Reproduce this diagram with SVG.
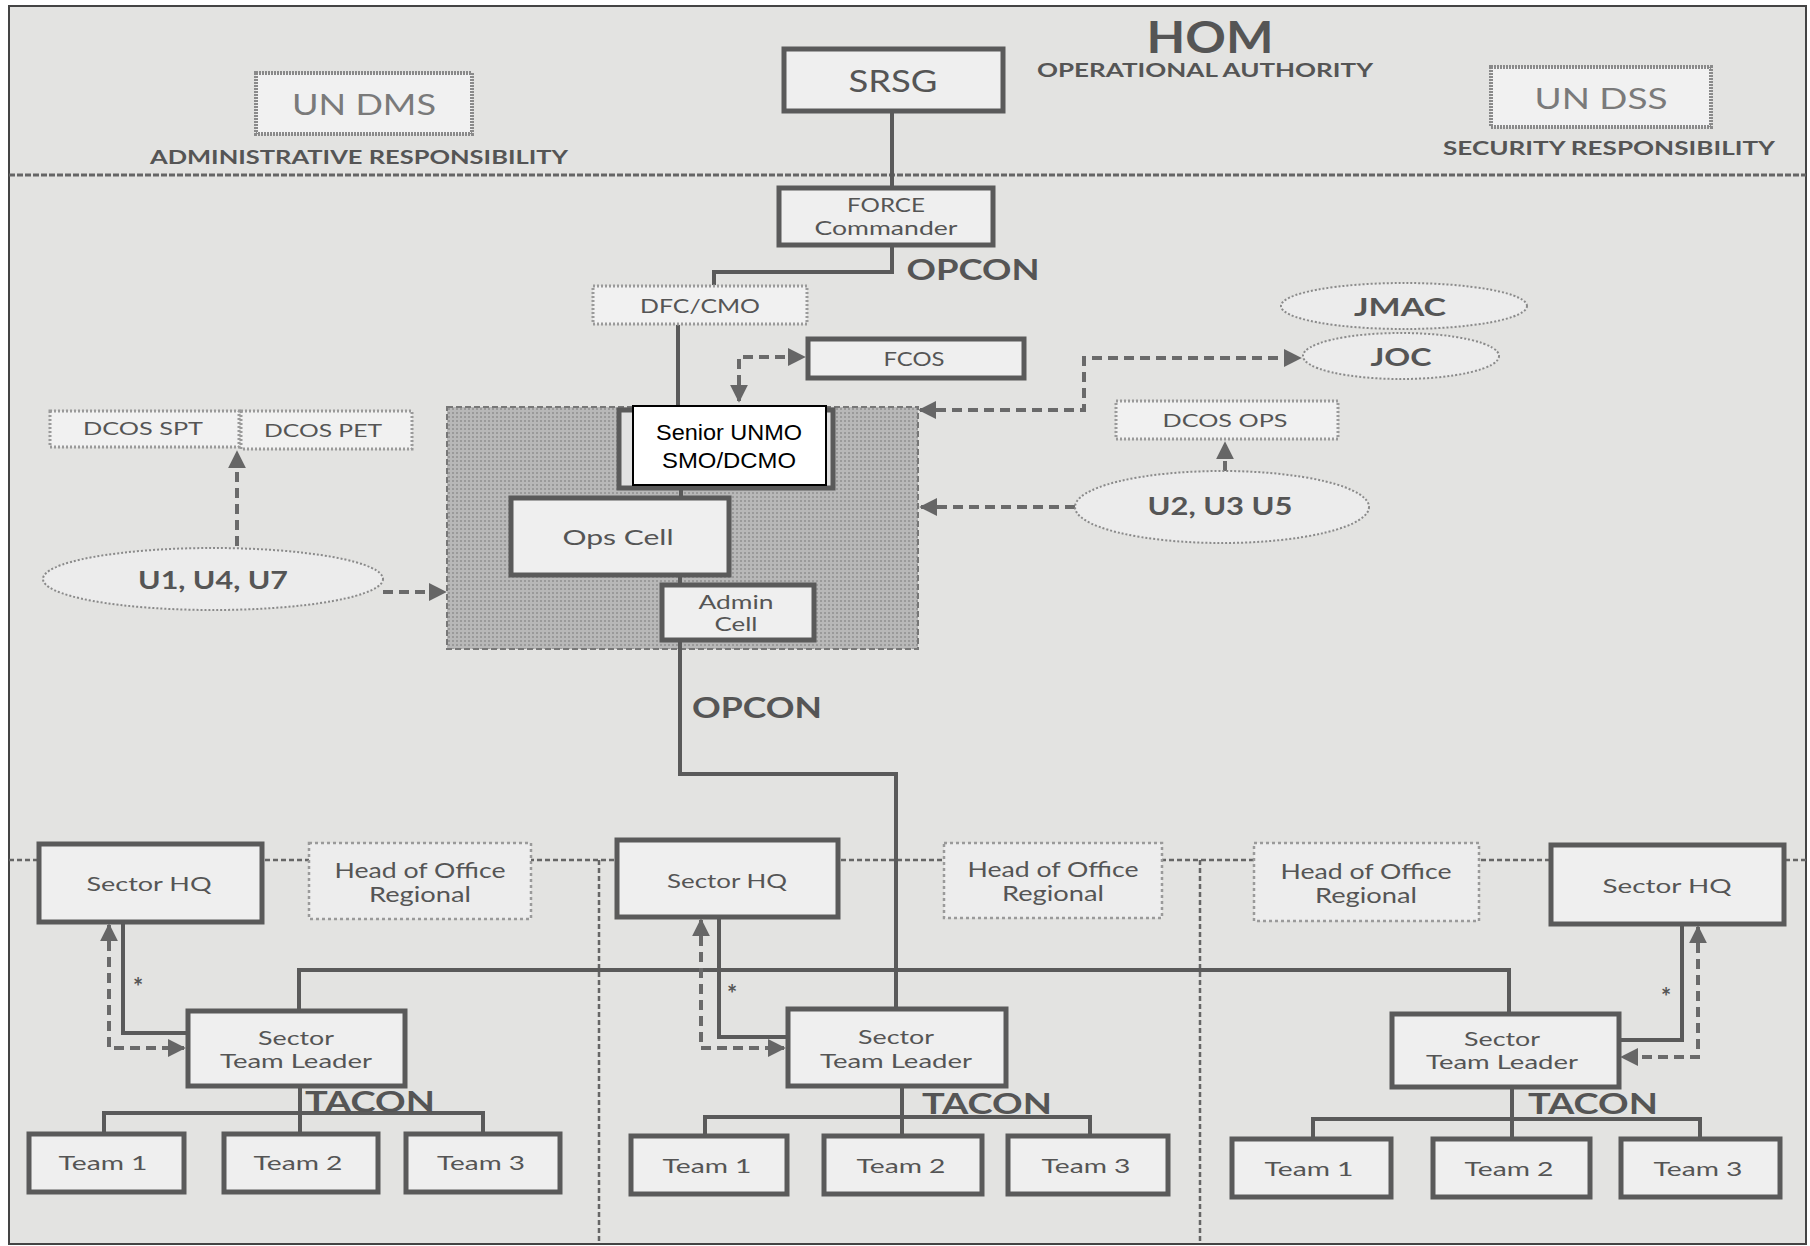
<svg xmlns="http://www.w3.org/2000/svg" width="1810" height="1246" viewBox="0 0 1810 1246">
<defs>
<marker id="arr" viewBox="0 0 10 10" refX="9" refY="5" markerWidth="18" markerHeight="18" markerUnits="userSpaceOnUse" orient="auto-start-reverse">
<path d="M0,0 L10,5 L0,10 z" fill="#666"/>
</marker>
<pattern id="dots" width="4" height="4" patternUnits="userSpaceOnUse">
<rect width="4" height="4" fill="#b8b8b8"/>
<rect width="2" height="2" fill="#9a9a9a"/>
</pattern>
</defs>
<style>
text{font-family:Lato,"Liberation Sans",sans-serif;fill:#555;text-anchor:middle;dominant-baseline:central}
.b{font-weight:bold}
.lt{fill:#7a7a7a}
.box{fill:#efefef;stroke:#5a5a5a;stroke-width:5}
.hbox{fill:#f1f1f1;stroke:#8a8a8a;stroke-width:4;stroke-dasharray:2 1}
.dbox{fill:#f1f1f1;stroke:#9a9a9a;stroke-width:3;stroke-dasharray:2 2}
.hoo{fill:#ededed;stroke:#9a9a9a;stroke-width:2.5;stroke-dasharray:3 3}
.ell{fill:#ececec;stroke:#8a8a8a;stroke-width:2;stroke-dasharray:2 2}
.sol{fill:none;stroke:#5a5a5a;stroke-width:4}
.das{fill:none;stroke:#6a6a6a;stroke-width:4;stroke-dasharray:10 6}
.sep{fill:none;stroke:#666;stroke-width:2.5;stroke-dasharray:5 3}
</style>
<rect x="0" y="0" width="1810" height="1246" fill="#ffffff"/>
<rect x="9" y="6" width="1797" height="1238" fill="#e3e3e1" stroke="#444" stroke-width="2"/>
<line x1="9" y1="175" x2="1806" y2="175" stroke="#666" stroke-width="3" stroke-dasharray="6 2"/>
<line class="sep" x1="9" y1="860" x2="1806" y2="860"/>
<line class="sep" x1="599" y1="860" x2="599" y2="1244"/>
<line class="sep" x1="1200" y1="860" x2="1200" y2="1244"/>
<g id="smo-area"><rect x="447" y="407" width="471" height="242" fill="url(#dots)" stroke="#777" stroke-width="2" stroke-dasharray="6 3"/></g>

<g id="connectors">
<path class="sol" d="M892,112 V186"/>
<path class="sol" d="M892,246 V272 H714 V285"/>
<path class="sol" d="M678,325 V406"/>
<path class="das" d="M739,401 V357 H804" marker-start="url(#arr)" marker-end="url(#arr)"/>
<path class="sol" d="M681,490 V497"/>
<path class="sol" d="M680,577 V583"/>
<path class="sol" d="M680,641 V774 H896 V1008"/>
<path class="das" d="M920,410 H1084 V358 H1300" marker-start="url(#arr)" marker-end="url(#arr)"/>
<path class="das" d="M1075,507 H921" marker-end="url(#arr)"/>
<path class="das" d="M1225,471 V443" marker-end="url(#arr)"/>
<path class="das" d="M383,592 H445" marker-end="url(#arr)"/>
<path class="das" d="M237,546 V452" marker-end="url(#arr)"/>
<path class="sol" d="M299,1010 V970 H1509 V1013"/>
<path class="sol" d="M123,923 V1033 H186"/>
<path class="das" d="M109,925 V1048 H184" marker-start="url(#arr)" marker-end="url(#arr)"/>
<path class="sol" d="M719,918 V1037 H786"/>
<path class="das" d="M701,920 V1048 H784" marker-start="url(#arr)" marker-end="url(#arr)"/>
<path class="sol" d="M1682,925 V1040 H1620"/>
<path class="das" d="M1698,927 V1057 H1622" marker-start="url(#arr)" marker-end="url(#arr)"/>
<path class="sol" d="M300,1087 V1133 M104,1133 V1113 H483 V1133"/>
<path class="sol" d="M902,1087 V1135 M705,1135 V1117 H1090 V1135"/>
<path class="sol" d="M1512,1088 V1138 M1313,1138 V1119 H1700 V1138"/>
</g>

<g id="labels">
<text class="b" x="1210" y="36" font-size="44" textLength="127" lengthAdjust="spacingAndGlyphs">HOM</text>
<text class="b" x="1205" y="69" font-size="19" textLength="336" lengthAdjust="spacingAndGlyphs">OPERATIONAL AUTHORITY</text>
<text class="b" x="359" y="156" font-size="19" textLength="418" lengthAdjust="spacingAndGlyphs">ADMINISTRATIVE RESPONSIBILITY</text>
<text class="b" x="1609" y="147" font-size="19" textLength="332" lengthAdjust="spacingAndGlyphs">SECURITY RESPONSIBILITY</text>
<text class="b" x="973" y="268" font-size="29" textLength="133" lengthAdjust="spacingAndGlyphs">OPCON</text>
<text class="b" x="757" y="706" font-size="29" textLength="130" lengthAdjust="spacingAndGlyphs">OPCON</text>
<text class="b" x="370" y="1100" font-size="29" textLength="130" lengthAdjust="spacingAndGlyphs">TACON</text>
<text class="b" x="987" y="1102" font-size="29" textLength="130" lengthAdjust="spacingAndGlyphs">TACON</text>
<text class="b" x="1593" y="1102" font-size="29" textLength="130" lengthAdjust="spacingAndGlyphs">TACON</text>
<text class="b" x="138" y="986" font-size="24">*</text>
<text class="b" x="732" y="993" font-size="24">*</text>
<text class="b" x="1666" y="996" font-size="24">*</text>
</g>

<g id="un-dms"><rect class="hbox" x="256" y="73" width="216" height="61"/><text class="lt" x="364" y="103" font-size="29" textLength="144" lengthAdjust="spacingAndGlyphs">UN DMS</text></g>
<g id="srsg"><rect class="box" x="784" y="49" width="219" height="62"/><text x="893" y="80" font-size="30" textLength="89" lengthAdjust="spacingAndGlyphs">SRSG</text></g>
<g id="un-dss"><rect class="hbox" x="1491" y="67" width="220" height="60"/><text class="lt" x="1601" y="97" font-size="29" textLength="133" lengthAdjust="spacingAndGlyphs">UN DSS</text></g>
<g id="force-commander"><rect class="box" x="779" y="188" width="214" height="57"/><text x="886" y="204" font-size="20" textLength="78" lengthAdjust="spacingAndGlyphs">FORCE</text><text x="886" y="227" font-size="20" textLength="143" lengthAdjust="spacingAndGlyphs">Commander</text></g>
<g id="dfc-cmo"><rect class="dbox" x="593" y="286" width="214" height="38"/><text x="700" y="305" font-size="19" textLength="120" lengthAdjust="spacingAndGlyphs">DFC/CMO</text></g>
<g id="fcos"><rect class="box" x="808" y="339" width="216" height="39"/><text x="914" y="358" font-size="19" textLength="61" lengthAdjust="spacingAndGlyphs">FCOS</text></g>
<g id="jmac"><ellipse class="ell" cx="1404" cy="306" rx="123" ry="23"/><text class="b" x="1400" y="306" font-size="25" textLength="92" lengthAdjust="spacingAndGlyphs">JMAC</text></g>
<g id="joc"><ellipse class="ell" cx="1401" cy="356" rx="98" ry="23"/><text class="b" x="1401" y="356" font-size="25" textLength="61" lengthAdjust="spacingAndGlyphs">JOC</text></g>
<g id="dcos-spt"><rect class="dbox" x="50" y="411" width="189" height="36"/><text x="143" y="428" font-size="18" textLength="120" lengthAdjust="spacingAndGlyphs">DCOS SPT</text></g>
<g id="dcos-pet"><rect class="dbox" x="241" y="411" width="171" height="38"/><text x="323" y="430" font-size="18" textLength="118" lengthAdjust="spacingAndGlyphs">DCOS PET</text></g>
<g id="dcos-ops"><rect class="dbox" x="1116" y="401" width="222" height="38"/><text x="1225" y="420" font-size="18" textLength="125" lengthAdjust="spacingAndGlyphs">DCOS OPS</text></g>
<g id="senior-unmo">
<rect x="619" y="410" width="214" height="78" fill="#e2e2e2" stroke="#5a5a5a" stroke-width="5"/>
<rect x="633" y="406" width="193" height="79" fill="#fff" stroke="#000" stroke-width="2"/>
<text x="729" y="432" font-size="22" style="fill:#000;font-family:'Liberation Sans',Arial,sans-serif" textLength="146" lengthAdjust="spacingAndGlyphs">Senior UNMO</text>
<text x="729" y="460" font-size="22" style="fill:#000;font-family:'Liberation Sans',Arial,sans-serif" textLength="134" lengthAdjust="spacingAndGlyphs">SMO/DCMO</text>
</g>
<g id="ops-cell"><rect class="box" x="511" y="498" width="218" height="77"/><text x="618" y="536" font-size="22" textLength="111" lengthAdjust="spacingAndGlyphs">Ops Cell</text></g>
<g id="admin-cell"><rect class="box" x="662" y="585" width="152" height="55"/><text x="736" y="601" font-size="19" textLength="75" lengthAdjust="spacingAndGlyphs">Admin</text><text x="736" y="623" font-size="19" textLength="43" lengthAdjust="spacingAndGlyphs">Cell</text></g>
<g id="u1-u4-u7"><ellipse class="ell" cx="213" cy="579" rx="170" ry="31"/><text class="b" x="213" y="579" font-size="24" textLength="150" lengthAdjust="spacingAndGlyphs">U1, U4, U7</text></g>
<g id="u2-u3-u5"><ellipse class="ell" cx="1222" cy="507" rx="147" ry="36"/><text class="b" x="1220" y="505" font-size="24" textLength="145" lengthAdjust="spacingAndGlyphs">U2, U3  U5</text></g>

<g id="sector-hq-1"><rect class="box" x="39" y="844" width="223" height="78"/><text x="149" y="883" font-size="19" textLength="125" lengthAdjust="spacingAndGlyphs">Sector HQ</text></g>
<g id="hoo-1"><rect class="hoo" x="309" y="843" width="222" height="76"/><text x="420" y="869" font-size="21" textLength="171" lengthAdjust="spacingAndGlyphs">Head of Office</text><text x="420" y="893" font-size="21" textLength="102" lengthAdjust="spacingAndGlyphs">Regional</text></g>
<g id="sector-hq-2"><rect class="box" x="617" y="840" width="221" height="77"/><text x="727" y="880" font-size="19" textLength="120" lengthAdjust="spacingAndGlyphs">Sector HQ</text></g>
<g id="hoo-2"><rect class="hoo" x="944" y="843" width="218" height="75"/><text x="1053" y="868" font-size="21" textLength="171" lengthAdjust="spacingAndGlyphs">Head of Office</text><text x="1053" y="892" font-size="21" textLength="102" lengthAdjust="spacingAndGlyphs">Regional</text></g>
<g id="hoo-3"><rect class="hoo" x="1254" y="843" width="225" height="78"/><text x="1366" y="870" font-size="21" textLength="171" lengthAdjust="spacingAndGlyphs">Head of Office</text><text x="1366" y="894" font-size="21" textLength="102" lengthAdjust="spacingAndGlyphs">Regional</text></g>
<g id="sector-hq-3"><rect class="box" x="1551" y="845" width="233" height="79"/><text x="1667" y="885" font-size="19" textLength="129" lengthAdjust="spacingAndGlyphs">Sector HQ</text></g>

<g id="stl-1"><rect class="box" x="188" y="1011" width="217" height="75"/><text x="296" y="1037" font-size="20" textLength="76" lengthAdjust="spacingAndGlyphs">Sector</text><text x="296" y="1060" font-size="20" textLength="152" lengthAdjust="spacingAndGlyphs">Team Leader</text></g>
<g id="stl-2"><rect class="box" x="788" y="1009" width="218" height="77"/><text x="896" y="1036" font-size="20" textLength="76" lengthAdjust="spacingAndGlyphs">Sector</text><text x="896" y="1060" font-size="20" textLength="152" lengthAdjust="spacingAndGlyphs">Team Leader</text></g>
<g id="stl-3"><rect class="box" x="1392" y="1014" width="227" height="73"/><text x="1502" y="1038" font-size="20" textLength="76" lengthAdjust="spacingAndGlyphs">Sector</text><text x="1502" y="1061" font-size="20" textLength="152" lengthAdjust="spacingAndGlyphs">Team Leader</text></g>

<g id="team-1-1"><rect class="box" x="29" y="1134" width="155" height="58"/><text x="103" y="1162" font-size="20" textLength="89" lengthAdjust="spacingAndGlyphs">Team 1</text></g>
<g id="team-1-2"><rect class="box" x="224" y="1134" width="154" height="58"/><text x="298" y="1162" font-size="20" textLength="89" lengthAdjust="spacingAndGlyphs">Team 2</text></g>
<g id="team-1-3"><rect class="box" x="406" y="1134" width="154" height="58"/><text x="481" y="1162" font-size="20" textLength="88" lengthAdjust="spacingAndGlyphs">Team 3</text></g>
<g id="team-2-1"><rect class="box" x="631" y="1136" width="156" height="58"/><text x="707" y="1165" font-size="20" textLength="89" lengthAdjust="spacingAndGlyphs">Team 1</text></g>
<g id="team-2-2"><rect class="box" x="824" y="1136" width="158" height="58"/><text x="901" y="1165" font-size="20" textLength="89" lengthAdjust="spacingAndGlyphs">Team 2</text></g>
<g id="team-2-3"><rect class="box" x="1008" y="1136" width="160" height="58"/><text x="1086" y="1165" font-size="20" textLength="89" lengthAdjust="spacingAndGlyphs">Team 3</text></g>
<g id="team-3-1"><rect class="box" x="1232" y="1139" width="159" height="58"/><text x="1309" y="1168" font-size="20" textLength="89" lengthAdjust="spacingAndGlyphs">Team 1</text></g>
<g id="team-3-2"><rect class="box" x="1433" y="1139" width="157" height="58"/><text x="1509" y="1168" font-size="20" textLength="89" lengthAdjust="spacingAndGlyphs">Team 2</text></g>
<g id="team-3-3"><rect class="box" x="1621" y="1139" width="159" height="58"/><text x="1698" y="1168" font-size="20" textLength="89" lengthAdjust="spacingAndGlyphs">Team 3</text></g>
</svg>
